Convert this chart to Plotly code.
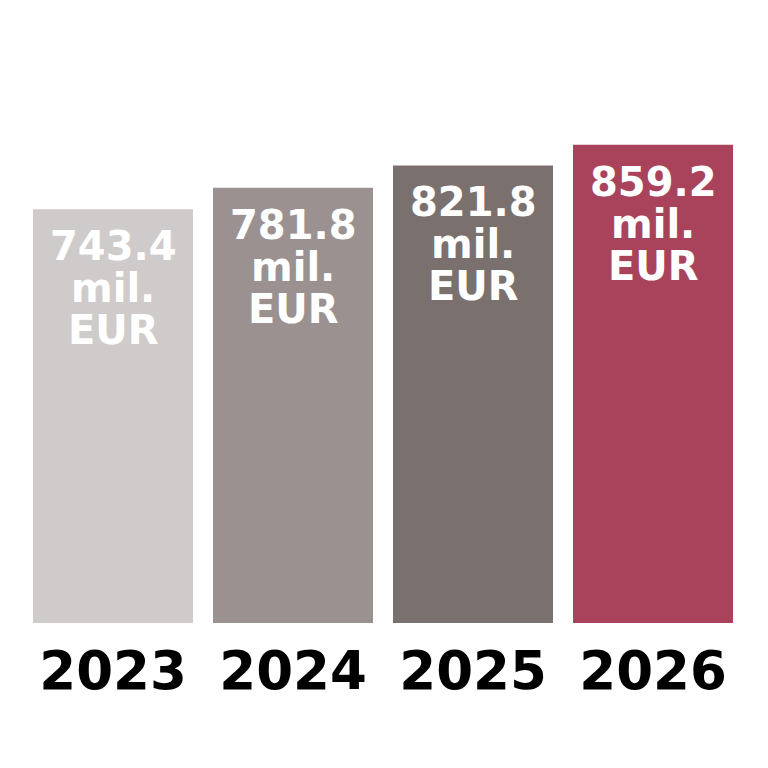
import plotly.graph_objects as go

years = ["2023", "2024", "2025", "2026"]
values = [743.4, 781.8, 821.8, 859.2]
colors = ["#cfcbca", "#9a9190", "#7a706e", "#a8435b"]
unit_lines = ["mil.", "EUR"]

fig = go.Figure(go.Bar(
    x=years, y=values,
    marker=dict(color=colors, line=dict(width=0)),
))

label_font = dict(family="DejaVu Sans", size=40, color="white")
line_offsets = [-37, -79, -121]
for i, v in enumerate(values):
    for txt, dy in zip([f"{v:.1f}"] + unit_lines, line_offsets):
        fig.add_annotation(
            x=i, y=v, xref="x", yref="y",
            text=f"<b>{txt}</b>", showarrow=False,
            xanchor="center", yanchor="middle",
            yshift=dy, font=label_font,
        )

fig.update_layout(
    width=768, height=768,
    margin=dict(l=15, r=33, t=41, b=153),
    paper_bgcolor="white", plot_bgcolor="white",
    bargap=20/180,
    showlegend=False,
    xaxis=dict(
        type="category",
        range=[-0.5, len(years) - 0.5],
        tickfont=dict(family="DejaVu Sans", size=53, color="black", weight="bold"),
        showgrid=False, zeroline=False, showline=False,
        ticks="outside", ticklen=1, tickcolor="white",
    ),
    yaxis=dict(range=[0, 1031.04], visible=False, showgrid=False, zeroline=False),
)

fig.write_html("out.html")
